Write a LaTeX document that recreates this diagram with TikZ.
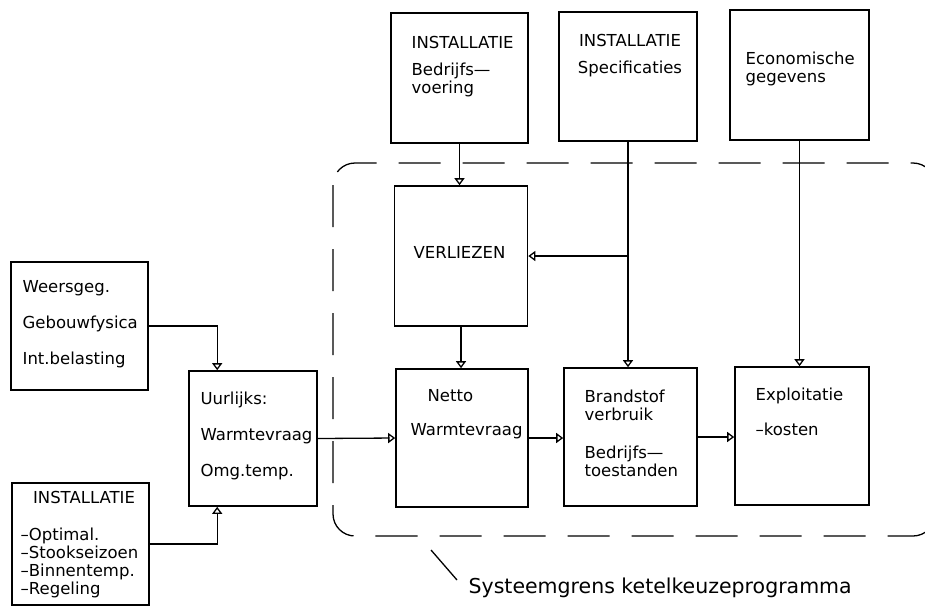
\documentclass[tikz,border=0pt]{standalone}
\usepackage{fontspec}
\setmainfont{DejaVu Sans}
\usetikzlibrary{arrows.meta,calc}
\newcommand{\fs}{\fontsize{16.5}{18}\selectfont}

\begin{document}
\begin{tikzpicture}[
        x=1pt, y=-1pt, line width=1.3pt,
        box/.style={draw, rectangle, inner sep=0pt, line width=1.6pt},
        txt/.style={inner sep=0pt, font=\fs, align=left},
        arr/.style={-{Triangle[open,length=7pt,width=10pt]}}
      ]
        \useasboundingbox[fill=white] (0,0) rectangle (925,606);
        \node[box, minimum width=137pt, minimum height=128pt] (weer) at (79.5,326) {};
        \node[box, minimum width=128pt, minimum height=135pt] (uur) at (253,438.5) {};
        \node[box, minimum width=137pt, minimum height=122pt] (inst) at (80.5,544) {};
        \node[box, minimum width=137pt, minimum height=130pt] (bedr) at (459.5,78) {};
        \node[box, minimum width=138pt, minimum height=129pt] (spec) at (628,76.5) {};
        \node[box, minimum width=139pt, minimum height=130pt] (econ) at (799.5,75) {};
        \node[box, minimum width=133pt, minimum height=140pt] (verl) at (461,256) {};
        \node[box, minimum width=132pt, minimum height=138pt] (netto) at (462,438) {};
        \node[box, minimum width=133pt, minimum height=138pt] (brand) at (630.5,437) {};
        \node[box, minimum width=134pt, minimum height=138pt] (expl) at (802,436) {};

        \node[txt, anchor=north west] (tweer) at (22,280) {Weersgeg.\\[18pt]Gebouwfysica\\[18pt]Int.belasting};
        \node[txt, anchor=north west] (tuur) at (200,391) {Uurlijks:\\[18pt]Warmtevraag\\[18pt]Omg.temp.};
        \node[txt, anchor=north] (tinst) at (84,491) {INSTALLATIE};
        \node[txt, anchor=north west] (tlijst) at (20,527) {–Optimal.\\–Stookseizoen\\–Binnentemp.\\–Regeling};
        \node[txt, anchor=north west] (tbedr) at (411,36) {INSTALLATIE\\[9pt]Bedrijfs—\\voering};
        \node[txt, anchor=north, align=center] (tspec) at (630,34) {INSTALLATIE\\[9pt]Specificaties};
        \node[txt, anchor=north west] (tecon) at (745,51) {Economische\\gegevens};
        \node[txt, anchor=west] (tverl) at (413,252) {VERLIEZEN};
        \node[txt, anchor=west] (tnetto) at (427,396) {Netto};
        \node[txt, anchor=west] (twarm) at (410,431) {Warmtevraag};
        \node[txt, anchor=north west] (tbrand) at (584,389) {Brandstof\\verbruik\\[20pt]Bedrijfs—\\toestanden};
        \node[txt, anchor=north west] (texpl) at (755,387) {Exploitatie\\[17pt]–kosten};

        \draw[dashed, dash pattern=on 42pt off 22pt, rounded corners=22pt]
          (333,163) rectangle (935,536);
        \node[txt, anchor=west, font=\fontsize{20.5}{22}\selectfont] (grens) at (468,588) {Systeemgrens ketelkeuzeprogramma};
        \coordinate (lead) at (431,550);
        \draw (lead) -- ($(grens.west)+(-11,-8)$);

        \draw[arr] (weer.east) -| ($(uur.north west)+(29,0)$);
        \draw[arr] (inst.east) -| ($(uur.south west)+(29,0)$);
        \draw[arr] (uur.east) -- (netto.west);
        \draw[arr] (netto.east) -- (netto.east -| brand.west);
        \draw[arr] (brand.east) -- (brand.east -| expl.west);
        \draw[arr] (bedr.south) -- (bedr.south |- verl.north);
        \draw[arr] (verl.south) -- (verl.south |- netto.north);
        \draw[arr] (spec.south) -- (spec.south |- brand.north);
        \draw[arr] (spec.south |- verl.east) -- (verl.east);
        \draw[arr] (econ.south) -- (econ.south |- expl.north);
      \end{tikzpicture}
\end{document}
